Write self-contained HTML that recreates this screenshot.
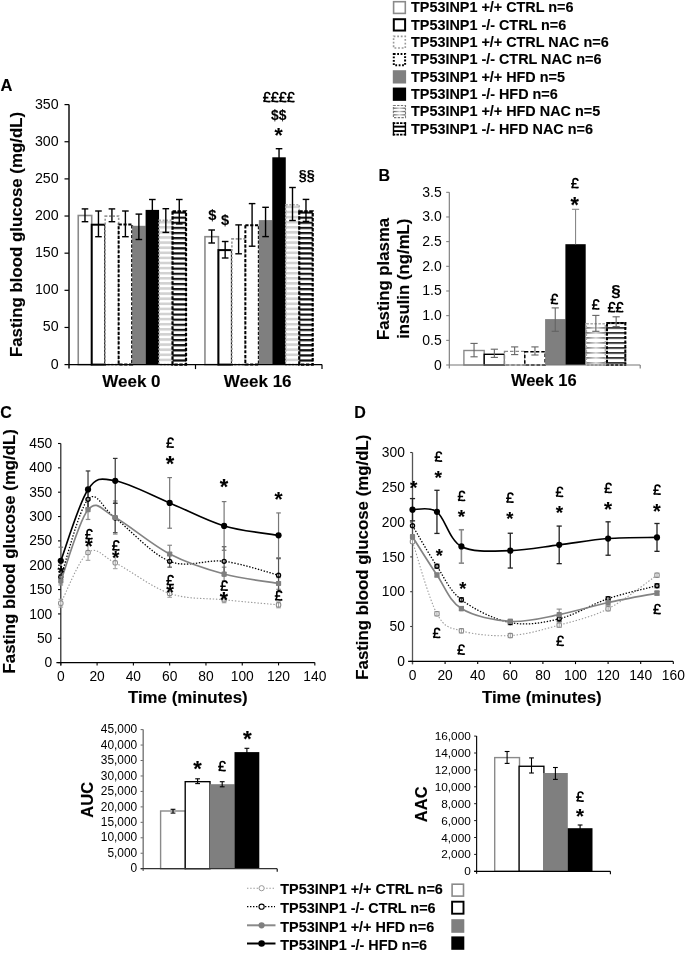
<!DOCTYPE html><html><head><meta charset="utf-8"><style>html,body{margin:0;padding:0;background:#fff;}svg{display:block;will-change:transform;}text{font-family:"Liberation Sans",sans-serif;}text[font-weight=bold]{stroke:#000;stroke-width:0.12px;}</style></head><body>
<svg width="685" height="955" viewBox="0 0 685 955">
<defs>
<pattern id="pb" patternUnits="userSpaceOnUse" x="0" y="2.4" width="10" height="5.1"><rect width="10" height="5.1" fill="#fff"/><rect y="0" width="10" height="2.2" fill="#111"/></pattern>
<pattern id="pg" patternUnits="userSpaceOnUse" x="0" y="1.6" width="10" height="5.1"><rect width="10" height="5.1" fill="#fff"/><rect y="0" width="10" height="2.6" fill="#d2d2d2"/></pattern>
<pattern id="pbB" patternUnits="userSpaceOnUse" x="0" y="2.15" width="10" height="5.0"><rect width="10" height="5.0" fill="#fff"/><rect y="0" width="10" height="1.6" fill="#111"/></pattern>
<linearGradient id="gh" x1="0" y1="0" x2="1" y2="0"><stop offset="0" stop-color="#5a5a5a"/><stop offset="0.5" stop-color="#d0d0d0"/><stop offset="1" stop-color="#5a5a5a"/></linearGradient>
</defs>
<rect width="685" height="955" fill="#fff"/>
<rect x="393.6" y="1.7" width="11.7" height="11.7" fill="#fff" stroke="#8a8a8a" stroke-width="1.6"/>
<text x="411" y="12.2" font-size="14.4" font-weight="bold" text-anchor="start" fill="#000">TP53INP1 +/+ CTRL n=6</text>
<rect x="393.8" y="19.23" width="11.3" height="11.3" fill="#fff" stroke="#000" stroke-width="2"/>
<text x="411" y="29.53" font-size="14.4" font-weight="bold" text-anchor="start" fill="#000">TP53INP1 -/- CTRL n=6</text>
<rect x="393.6" y="36.36" width="11.7" height="11.7" fill="#fff" stroke="#999" stroke-width="1.6" stroke-dasharray="1.8 1.8"/>
<text x="411" y="46.86" font-size="14.4" font-weight="bold" text-anchor="start" fill="#000">TP53INP1 +/+ CTRL NAC n=6</text>
<rect x="393.8" y="53.89" width="11.3" height="11.3" fill="#fff" stroke="#000" stroke-width="2" stroke-dasharray="1.8 1.6"/>
<text x="411" y="64.19" font-size="14.4" font-weight="bold" text-anchor="start" fill="#000">TP53INP1 -/- CTRL NAC n=6</text>
<rect x="392.8" y="70.22" width="13.3" height="13.3" fill="#7f7f7f" stroke="none" stroke-width="1"/>
<text x="411" y="81.52" font-size="14.4" font-weight="bold" text-anchor="start" fill="#000">TP53INP1 +/+ HFD n=5</text>
<rect x="392.8" y="87.55" width="13.3" height="13.3" fill="#000" stroke="none" stroke-width="1"/>
<text x="411" y="98.85" font-size="14.4" font-weight="bold" text-anchor="start" fill="#000">TP53INP1 -/- HFD n=6</text>
<rect x="392.8" y="104.88" width="13.3" height="13.3" fill="#fff" stroke="none" stroke-width="1"/>
<rect x="393.4" y="107.55" width="12.1" height="1.3" fill="url(#gh)" stroke="none" stroke-width="1"/>
<rect x="393.4" y="110.88" width="12.1" height="1.3" fill="url(#gh)" stroke="none" stroke-width="1"/>
<rect x="393.4" y="114.2" width="12.1" height="1.3" fill="url(#gh)" stroke="none" stroke-width="1"/>
<rect x="393.4" y="105.48" width="12.1" height="12.1" fill="none" stroke="#777" stroke-width="1.1" stroke-dasharray="2.4 1.3"/>
<text x="411" y="116.18" font-size="14.4" font-weight="bold" text-anchor="start" fill="#000">TP53INP1 +/+ HFD NAC n=5</text>
<rect x="392.8" y="122.21" width="13.3" height="13.3" fill="#fff" stroke="none" stroke-width="1"/>
<rect x="393.3" y="125.69" width="12.3" height="1.9" fill="#000" stroke="none" stroke-width="1"/>
<rect x="393.3" y="130.13" width="12.3" height="1.9" fill="#000" stroke="none" stroke-width="1"/>
<line x1="393.5" y1="122.21" x2="393.5" y2="135.51" stroke="#000" stroke-width="1.4"/>
<line x1="405.4" y1="122.21" x2="405.4" y2="135.51" stroke="#000" stroke-width="1.4"/>
<line x1="392.8" y1="123.11" x2="406.1" y2="123.11" stroke="#000" stroke-width="1.8" stroke-dasharray="2.5 1.1"/>
<line x1="392.8" y1="134.61" x2="406.1" y2="134.61" stroke="#000" stroke-width="1.8" stroke-dasharray="2.5 1.1"/>
<text x="411" y="133.51" font-size="14.4" font-weight="bold" text-anchor="start" fill="#000">TP53INP1 -/- HFD NAC n=6</text>
<text x="0.4" y="91.3" font-size="16.5" font-weight="bold" text-anchor="start" fill="#000">A</text>
<line x1="64.5" y1="364.6" x2="69" y2="364.6" stroke="#000" stroke-width="1.2"/>
<text x="58.6" y="368.5" font-size="14.2" text-anchor="end" fill="#000">0</text>
<line x1="64.5" y1="327.46" x2="69" y2="327.46" stroke="#000" stroke-width="1.2"/>
<text x="58.6" y="331.36" font-size="14.2" text-anchor="end" fill="#000">50</text>
<line x1="64.5" y1="290.31" x2="69" y2="290.31" stroke="#000" stroke-width="1.2"/>
<text x="58.6" y="294.21" font-size="14.2" text-anchor="end" fill="#000">100</text>
<line x1="64.5" y1="253.17" x2="69" y2="253.17" stroke="#000" stroke-width="1.2"/>
<text x="58.6" y="257.07" font-size="14.2" text-anchor="end" fill="#000">150</text>
<line x1="64.5" y1="216.03" x2="69" y2="216.03" stroke="#000" stroke-width="1.2"/>
<text x="58.6" y="219.93" font-size="14.2" text-anchor="end" fill="#000">200</text>
<line x1="64.5" y1="178.89" x2="69" y2="178.89" stroke="#000" stroke-width="1.2"/>
<text x="58.6" y="182.79" font-size="14.2" text-anchor="end" fill="#000">250</text>
<line x1="64.5" y1="141.74" x2="69" y2="141.74" stroke="#000" stroke-width="1.2"/>
<text x="58.6" y="145.64" font-size="14.2" text-anchor="end" fill="#000">300</text>
<line x1="64.5" y1="104.6" x2="69" y2="104.6" stroke="#000" stroke-width="1.2"/>
<text x="58.6" y="108.5" font-size="14.2" text-anchor="end" fill="#000">350</text>
<text transform="translate(22.3,234.5) rotate(-90)" x="0" y="0" font-size="16.85" font-weight="bold" text-anchor="middle">Fasting blood glucose (mg/dL)</text>
<rect x="78.25" y="215.5" width="13.47" height="149.1" fill="#fff" stroke="#8a8a8a" stroke-width="1.6"/>
<rect x="91.72" y="224.7" width="13.47" height="139.9" fill="#fff" stroke="#000" stroke-width="2.0"/>
<rect x="105.19" y="216.1" width="13.47" height="148.5" fill="#fff" stroke="#999" stroke-width="1.6" stroke-dasharray="2.2 1.6"/>
<rect x="118.66" y="224.4" width="13.47" height="140.2" fill="#fff" stroke="#000" stroke-width="2.0" stroke-dasharray="3.2 1.6"/>
<rect x="132.13" y="225.8" width="13.47" height="138.8" fill="#7f7f7f" stroke="none" stroke-width="1"/>
<rect x="145.6" y="209.9" width="13.47" height="154.7" fill="#000" stroke="none" stroke-width="1"/>
<rect x="159.07" y="219.6" width="13.47" height="145" fill="url(#pg)" stroke="none" stroke-width="1"/>
<rect x="159.07" y="220.4" width="13.47" height="144.2" fill="none" stroke="#aaa" stroke-width="1.6" stroke-dasharray="2 1.5"/>
<rect x="172.54" y="210.3" width="13.47" height="154.3" fill="url(#pb)" stroke="none" stroke-width="1"/>
<rect x="172.54" y="211.3" width="13.47" height="153.3" fill="none" stroke="#000" stroke-width="2.2" stroke-dasharray="3.5 1.5"/>
<line x1="84.98" y1="208.9" x2="84.98" y2="221.7" stroke="#000" stroke-width="1.4"/>
<line x1="81.69" y1="208.9" x2="88.28" y2="208.9" stroke="#000" stroke-width="1.4"/>
<line x1="81.69" y1="221.7" x2="88.28" y2="221.7" stroke="#000" stroke-width="1.4"/>
<line x1="98.45" y1="211" x2="98.45" y2="236.7" stroke="#000" stroke-width="1.4"/>
<line x1="95.16" y1="211" x2="101.75" y2="211" stroke="#000" stroke-width="1.4"/>
<line x1="95.16" y1="236.7" x2="101.75" y2="236.7" stroke="#000" stroke-width="1.4"/>
<line x1="111.92" y1="208.9" x2="111.92" y2="221.7" stroke="#000" stroke-width="1.4"/>
<line x1="108.62" y1="208.9" x2="115.22" y2="208.9" stroke="#000" stroke-width="1.4"/>
<line x1="108.62" y1="221.7" x2="115.22" y2="221.7" stroke="#000" stroke-width="1.4"/>
<line x1="125.39" y1="211" x2="125.39" y2="236.7" stroke="#000" stroke-width="1.4"/>
<line x1="122.09" y1="211" x2="128.69" y2="211" stroke="#000" stroke-width="1.4"/>
<line x1="122.09" y1="236.7" x2="128.69" y2="236.7" stroke="#000" stroke-width="1.4"/>
<line x1="138.87" y1="214.1" x2="138.87" y2="239.5" stroke="#000" stroke-width="1.4"/>
<line x1="135.56" y1="214.1" x2="142.17" y2="214.1" stroke="#000" stroke-width="1.4"/>
<line x1="135.56" y1="239.5" x2="142.17" y2="239.5" stroke="#000" stroke-width="1.4"/>
<line x1="152.34" y1="199.5" x2="152.34" y2="220" stroke="#000" stroke-width="1.4"/>
<line x1="149.04" y1="199.5" x2="155.64" y2="199.5" stroke="#000" stroke-width="1.4"/>
<line x1="149.04" y1="220" x2="155.64" y2="220" stroke="#000" stroke-width="1.4"/>
<line x1="165.81" y1="208.7" x2="165.81" y2="232.4" stroke="#000" stroke-width="1.4"/>
<line x1="162.5" y1="208.7" x2="169.11" y2="208.7" stroke="#000" stroke-width="1.4"/>
<line x1="162.5" y1="232.4" x2="169.11" y2="232.4" stroke="#000" stroke-width="1.4"/>
<line x1="179.28" y1="199.5" x2="179.28" y2="223.9" stroke="#000" stroke-width="1.4"/>
<line x1="175.98" y1="199.5" x2="182.58" y2="199.5" stroke="#000" stroke-width="1.4"/>
<line x1="175.98" y1="223.9" x2="182.58" y2="223.9" stroke="#000" stroke-width="1.4"/>
<rect x="204.95" y="236.7" width="13.47" height="127.9" fill="#fff" stroke="#8a8a8a" stroke-width="1.6"/>
<rect x="218.42" y="250.1" width="13.47" height="114.5" fill="#fff" stroke="#000" stroke-width="2.0"/>
<rect x="231.89" y="238.9" width="13.47" height="125.7" fill="#fff" stroke="#999" stroke-width="1.6" stroke-dasharray="2.2 1.6"/>
<rect x="245.36" y="225.2" width="13.47" height="139.4" fill="#fff" stroke="#000" stroke-width="2.0" stroke-dasharray="3.2 1.6"/>
<rect x="258.83" y="220.1" width="13.47" height="144.5" fill="#7f7f7f" stroke="none" stroke-width="1"/>
<rect x="272.3" y="157.3" width="13.47" height="207.3" fill="#000" stroke="none" stroke-width="1"/>
<rect x="285.77" y="204" width="13.47" height="160.6" fill="url(#pg)" stroke="none" stroke-width="1"/>
<rect x="285.77" y="204.8" width="13.47" height="159.8" fill="none" stroke="#aaa" stroke-width="1.6" stroke-dasharray="2 1.5"/>
<rect x="299.24" y="210.4" width="13.47" height="154.2" fill="url(#pb)" stroke="none" stroke-width="1"/>
<rect x="299.24" y="211.4" width="13.47" height="153.2" fill="none" stroke="#000" stroke-width="2.2" stroke-dasharray="3.5 1.5"/>
<line x1="211.69" y1="230" x2="211.69" y2="243" stroke="#000" stroke-width="1.4"/>
<line x1="208.38" y1="230" x2="214.99" y2="230" stroke="#000" stroke-width="1.4"/>
<line x1="208.38" y1="243" x2="214.99" y2="243" stroke="#000" stroke-width="1.4"/>
<line x1="225.16" y1="241.5" x2="225.16" y2="258" stroke="#000" stroke-width="1.4"/>
<line x1="221.85" y1="241.5" x2="228.46" y2="241.5" stroke="#000" stroke-width="1.4"/>
<line x1="221.85" y1="258" x2="228.46" y2="258" stroke="#000" stroke-width="1.4"/>
<line x1="238.62" y1="224.9" x2="238.62" y2="253.8" stroke="#000" stroke-width="1.4"/>
<line x1="235.32" y1="224.9" x2="241.93" y2="224.9" stroke="#000" stroke-width="1.4"/>
<line x1="235.32" y1="253.8" x2="241.93" y2="253.8" stroke="#000" stroke-width="1.4"/>
<line x1="252.09" y1="203.6" x2="252.09" y2="246.2" stroke="#000" stroke-width="1.4"/>
<line x1="248.79" y1="203.6" x2="255.4" y2="203.6" stroke="#000" stroke-width="1.4"/>
<line x1="248.79" y1="246.2" x2="255.4" y2="246.2" stroke="#000" stroke-width="1.4"/>
<line x1="265.56" y1="207.3" x2="265.56" y2="236.6" stroke="#000" stroke-width="1.4"/>
<line x1="262.26" y1="207.3" x2="268.87" y2="207.3" stroke="#000" stroke-width="1.4"/>
<line x1="262.26" y1="236.6" x2="268.87" y2="236.6" stroke="#000" stroke-width="1.4"/>
<line x1="279.04" y1="148.7" x2="279.04" y2="166" stroke="#000" stroke-width="1.4"/>
<line x1="275.74" y1="148.7" x2="282.34" y2="148.7" stroke="#000" stroke-width="1.4"/>
<line x1="275.74" y1="166" x2="282.34" y2="166" stroke="#000" stroke-width="1.4"/>
<line x1="292.5" y1="187.5" x2="292.5" y2="220.5" stroke="#000" stroke-width="1.4"/>
<line x1="289.2" y1="187.5" x2="295.81" y2="187.5" stroke="#000" stroke-width="1.4"/>
<line x1="289.2" y1="220.5" x2="295.81" y2="220.5" stroke="#000" stroke-width="1.4"/>
<line x1="305.98" y1="199.4" x2="305.98" y2="221.4" stroke="#000" stroke-width="1.4"/>
<line x1="302.68" y1="199.4" x2="309.28" y2="199.4" stroke="#000" stroke-width="1.4"/>
<line x1="302.68" y1="221.4" x2="309.28" y2="221.4" stroke="#000" stroke-width="1.4"/>
<line x1="69" y1="104.6" x2="69" y2="368.6" stroke="#111" stroke-width="1.5"/>
<line x1="69" y1="364.6" x2="322" y2="364.6" stroke="#000" stroke-width="1.3"/>
<line x1="195.5" y1="364.6" x2="195.5" y2="369.1" stroke="#000" stroke-width="1.2"/>
<line x1="322" y1="364.6" x2="322" y2="369.1" stroke="#000" stroke-width="1.2"/>
<text x="131.4" y="387" font-size="17" font-weight="bold" text-anchor="middle" fill="#000">Week 0</text>
<text x="257.7" y="387" font-size="17" font-weight="bold" text-anchor="middle" fill="#000">Week 16</text>
<text x="212.3" y="220.26" font-size="14.61" font-weight="bold" text-anchor="middle" fill="#000">$</text>
<text x="225.1" y="224.66" font-size="14.61" font-weight="bold" text-anchor="middle" fill="#000">$</text>
<text x="278.7" y="142.48" font-size="20.94" font-weight="bold" text-anchor="middle" fill="#000">*</text>
<text x="278.7" y="119.54" font-size="13.8" font-weight="bold" text-anchor="middle" fill="#000">$$</text>
<path d="M7.1,-7.6 C6.9,-9.1 5.8,-9.95 4.5,-9.95 C3.0,-9.95 2.15,-9.1 2.15,-7.7 L2.2,-3.7 C2.2,-2.3 1.6,-1.4 0.55,-0.85 M0.55,-0.85 C1.8,-1.45 3.0,-1.15 4.2,-0.95 C5.4,-0.75 6.5,-0.65 7.7,-1.25 M0.15,-4.8 L5.6,-4.8" transform="translate(262.79,102.4) scale(1)" fill="none" stroke="#000" stroke-width="1.65"/>
<path d="M7.1,-7.6 C6.9,-9.1 5.8,-9.95 4.5,-9.95 C3.0,-9.95 2.15,-9.1 2.15,-7.7 L2.2,-3.7 C2.2,-2.3 1.6,-1.4 0.55,-0.85 M0.55,-0.85 C1.8,-1.45 3.0,-1.15 4.2,-0.95 C5.4,-0.75 6.5,-0.65 7.7,-1.25 M0.15,-4.8 L5.6,-4.8" transform="translate(270.79,102.4) scale(1)" fill="none" stroke="#000" stroke-width="1.65"/>
<path d="M7.1,-7.6 C6.9,-9.1 5.8,-9.95 4.5,-9.95 C3.0,-9.95 2.15,-9.1 2.15,-7.7 L2.2,-3.7 C2.2,-2.3 1.6,-1.4 0.55,-0.85 M0.55,-0.85 C1.8,-1.45 3.0,-1.15 4.2,-0.95 C5.4,-0.75 6.5,-0.65 7.7,-1.25 M0.15,-4.8 L5.6,-4.8" transform="translate(278.8,102.4) scale(1)" fill="none" stroke="#000" stroke-width="1.65"/>
<path d="M7.1,-7.6 C6.9,-9.1 5.8,-9.95 4.5,-9.95 C3.0,-9.95 2.15,-9.1 2.15,-7.7 L2.2,-3.7 C2.2,-2.3 1.6,-1.4 0.55,-0.85 M0.55,-0.85 C1.8,-1.45 3.0,-1.15 4.2,-0.95 C5.4,-0.75 6.5,-0.65 7.7,-1.25 M0.15,-4.8 L5.6,-4.8" transform="translate(286.81,102.4) scale(1)" fill="none" stroke="#000" stroke-width="1.65"/>
<text x="306.7" y="180.2" font-size="14.37" font-weight="bold" text-anchor="middle" fill="#000">§§</text>
<text x="378.6" y="181.3" font-size="16" font-weight="bold" text-anchor="start" fill="#000">B</text>
<line x1="446.2" y1="365" x2="449.3" y2="365" stroke="#777" stroke-width="1"/>
<text x="441.8" y="369.5" font-size="14" text-anchor="end" fill="#000">0</text>
<line x1="446.2" y1="340.33" x2="449.3" y2="340.33" stroke="#777" stroke-width="1"/>
<text x="441.8" y="344.83" font-size="14" text-anchor="end" fill="#000">0.5</text>
<line x1="446.2" y1="315.66" x2="449.3" y2="315.66" stroke="#777" stroke-width="1"/>
<text x="441.8" y="320.16" font-size="14" text-anchor="end" fill="#000">1.0</text>
<line x1="446.2" y1="290.99" x2="449.3" y2="290.99" stroke="#777" stroke-width="1"/>
<text x="441.8" y="295.49" font-size="14" text-anchor="end" fill="#000">1.5</text>
<line x1="446.2" y1="266.31" x2="449.3" y2="266.31" stroke="#777" stroke-width="1"/>
<text x="441.8" y="270.81" font-size="14" text-anchor="end" fill="#000">2.0</text>
<line x1="446.2" y1="241.64" x2="449.3" y2="241.64" stroke="#777" stroke-width="1"/>
<text x="441.8" y="246.14" font-size="14" text-anchor="end" fill="#000">2.5</text>
<line x1="446.2" y1="216.97" x2="449.3" y2="216.97" stroke="#777" stroke-width="1"/>
<text x="441.8" y="221.47" font-size="14" text-anchor="end" fill="#000">3.0</text>
<line x1="446.2" y1="192.3" x2="449.3" y2="192.3" stroke="#777" stroke-width="1"/>
<text x="441.8" y="196.8" font-size="14" text-anchor="end" fill="#000">3.5</text>
<text transform="translate(389.2,278.9) rotate(-90)" x="0" y="0" font-size="16.8" font-weight="bold" text-anchor="middle">Fasting plasma</text>
<text transform="translate(409,278.7) rotate(-90)" x="0" y="0" font-size="16.8" font-weight="bold" text-anchor="middle">insulin (ng/mL)</text>
<rect x="463.9" y="350.5" width="20.3" height="14.5" fill="#fff" stroke="#8a8a8a" stroke-width="1.4"/>
<rect x="484.2" y="354.3" width="20.3" height="10.7" fill="#fff" stroke="#000" stroke-width="1.4"/>
<rect x="504.5" y="351.4" width="20.3" height="13.6" fill="#fff" stroke="#8a8a8a" stroke-width="1.4" stroke-dasharray="3.5 2"/>
<rect x="524.8" y="351.85" width="20.3" height="13.15" fill="#fff" stroke="#000" stroke-width="1.5" stroke-dasharray="3.5 2"/>
<rect x="545.1" y="319.1" width="20.3" height="45.9" fill="#7f7f7f" stroke="none" stroke-width="1"/>
<rect x="565.4" y="244.2" width="20.3" height="120.8" fill="#000" stroke="none" stroke-width="1"/>
<rect x="585.7" y="323.1" width="20.3" height="41.9" fill="#fff" stroke="none" stroke-width="1"/>
<rect x="585.7" y="362.15" width="20.3" height="1.5" fill="url(#gh)" stroke="none" stroke-width="1"/>
<rect x="585.7" y="357.15" width="20.3" height="1.5" fill="url(#gh)" stroke="none" stroke-width="1"/>
<rect x="585.7" y="352.15" width="20.3" height="1.5" fill="url(#gh)" stroke="none" stroke-width="1"/>
<rect x="585.7" y="347.15" width="20.3" height="1.5" fill="url(#gh)" stroke="none" stroke-width="1"/>
<rect x="585.7" y="342.15" width="20.3" height="1.5" fill="url(#gh)" stroke="none" stroke-width="1"/>
<rect x="585.7" y="337.15" width="20.3" height="1.5" fill="url(#gh)" stroke="none" stroke-width="1"/>
<rect x="585.7" y="332.15" width="20.3" height="1.5" fill="url(#gh)" stroke="none" stroke-width="1"/>
<rect x="585.7" y="327.15" width="20.3" height="1.5" fill="url(#gh)" stroke="none" stroke-width="1"/>
<rect x="586.4" y="323.8" width="18.9" height="41.2" fill="none" stroke="#aaa" stroke-width="1.4" stroke-dasharray="2.5 1.5"/>
<rect x="606" y="321.9" width="20.3" height="43.1" fill="url(#pbB)" stroke="none" stroke-width="1"/>
<rect x="607" y="322.9" width="18.3" height="42.1" fill="none" stroke="#000" stroke-width="2" stroke-dasharray="3 1.5"/>
<line x1="474.05" y1="343.4" x2="474.05" y2="356.8" stroke="#636363" stroke-width="1.1"/>
<line x1="470.45" y1="343.4" x2="477.65" y2="343.4" stroke="#636363" stroke-width="1.1"/>
<line x1="470.45" y1="356.8" x2="477.65" y2="356.8" stroke="#636363" stroke-width="1.1"/>
<line x1="494.35" y1="349.2" x2="494.35" y2="357.4" stroke="#636363" stroke-width="1.1"/>
<line x1="490.75" y1="349.2" x2="497.95" y2="349.2" stroke="#636363" stroke-width="1.1"/>
<line x1="490.75" y1="357.4" x2="497.95" y2="357.4" stroke="#636363" stroke-width="1.1"/>
<line x1="514.65" y1="346.9" x2="514.65" y2="354.6" stroke="#636363" stroke-width="1.1"/>
<line x1="511.05" y1="346.9" x2="518.25" y2="346.9" stroke="#636363" stroke-width="1.1"/>
<line x1="511.05" y1="354.6" x2="518.25" y2="354.6" stroke="#636363" stroke-width="1.1"/>
<line x1="534.95" y1="346.9" x2="534.95" y2="355" stroke="#636363" stroke-width="1.1"/>
<line x1="531.35" y1="346.9" x2="538.55" y2="346.9" stroke="#636363" stroke-width="1.1"/>
<line x1="531.35" y1="355" x2="538.55" y2="355" stroke="#636363" stroke-width="1.1"/>
<line x1="555.25" y1="307.9" x2="555.25" y2="331.3" stroke="#636363" stroke-width="1.1"/>
<line x1="551.65" y1="307.9" x2="558.85" y2="307.9" stroke="#636363" stroke-width="1.1"/>
<line x1="551.65" y1="331.3" x2="558.85" y2="331.3" stroke="#636363" stroke-width="1.1"/>
<line x1="575.55" y1="209.3" x2="575.55" y2="244.2" stroke="#888" stroke-width="1.1"/>
<line x1="571.95" y1="209.3" x2="579.15" y2="209.3" stroke="#888" stroke-width="1.1"/>
<line x1="595.85" y1="315.4" x2="595.85" y2="331.3" stroke="#636363" stroke-width="1.1"/>
<line x1="592.25" y1="315.4" x2="599.45" y2="315.4" stroke="#636363" stroke-width="1.1"/>
<line x1="592.25" y1="331.3" x2="599.45" y2="331.3" stroke="#636363" stroke-width="1.1"/>
<line x1="616.15" y1="316.8" x2="616.15" y2="326.6" stroke="#636363" stroke-width="1.1"/>
<line x1="612.55" y1="316.8" x2="619.75" y2="316.8" stroke="#636363" stroke-width="1.1"/>
<line x1="612.55" y1="326.6" x2="619.75" y2="326.6" stroke="#636363" stroke-width="1.1"/>
<line x1="449.3" y1="192.3" x2="449.3" y2="368.5" stroke="#777" stroke-width="1.1"/>
<line x1="449.3" y1="365" x2="640.2" y2="365" stroke="#777" stroke-width="1.1"/>
<line x1="640.2" y1="365" x2="640.2" y2="368.5" stroke="#777" stroke-width="1.1"/>
<text x="543.8" y="386.2" font-size="16.5" font-weight="bold" text-anchor="middle" fill="#000">Week 16</text>
<path d="M7.1,-7.6 C6.9,-9.1 5.8,-9.95 4.5,-9.95 C3.0,-9.95 2.15,-9.1 2.15,-7.7 L2.2,-3.7 C2.2,-2.3 1.6,-1.4 0.55,-0.85 M0.55,-0.85 C1.8,-1.45 3.0,-1.15 4.2,-0.95 C5.4,-0.75 6.5,-0.65 7.7,-1.25 M0.15,-4.8 L5.6,-4.8" transform="translate(550.3,304.4) scale(1)" fill="none" stroke="#000" stroke-width="1.65"/>
<path d="M7.1,-7.6 C6.9,-9.1 5.8,-9.95 4.5,-9.95 C3.0,-9.95 2.15,-9.1 2.15,-7.7 L2.2,-3.7 C2.2,-2.3 1.6,-1.4 0.55,-0.85 M0.55,-0.85 C1.8,-1.45 3.0,-1.15 4.2,-0.95 C5.4,-0.75 6.5,-0.65 7.7,-1.25 M0.15,-4.8 L5.6,-4.8" transform="translate(570.9,188.5) scale(1)" fill="none" stroke="#000" stroke-width="1.65"/>
<text x="574.8" y="211.67" font-size="21.51" font-weight="bold" text-anchor="middle" fill="#000">*</text>
<path d="M7.1,-7.6 C6.9,-9.1 5.8,-9.95 4.5,-9.95 C3.0,-9.95 2.15,-9.1 2.15,-7.7 L2.2,-3.7 C2.2,-2.3 1.6,-1.4 0.55,-0.85 M0.55,-0.85 C1.8,-1.45 3.0,-1.15 4.2,-0.95 C5.4,-0.75 6.5,-0.65 7.7,-1.25 M0.15,-4.8 L5.6,-4.8" transform="translate(591.7,309.8) scale(1)" fill="none" stroke="#000" stroke-width="1.65"/>
<path d="M7.1,-7.6 C6.9,-9.1 5.8,-9.95 4.5,-9.95 C3.0,-9.95 2.15,-9.1 2.15,-7.7 L2.2,-3.7 C2.2,-2.3 1.6,-1.4 0.55,-0.85 M0.55,-0.85 C1.8,-1.45 3.0,-1.15 4.2,-0.95 C5.4,-0.75 6.5,-0.65 7.7,-1.25 M0.15,-4.8 L5.6,-4.8" transform="translate(607.59,312.6) scale(1)" fill="none" stroke="#000" stroke-width="1.65"/>
<path d="M7.1,-7.6 C6.9,-9.1 5.8,-9.95 4.5,-9.95 C3.0,-9.95 2.15,-9.1 2.15,-7.7 L2.2,-3.7 C2.2,-2.3 1.6,-1.4 0.55,-0.85 M0.55,-0.85 C1.8,-1.45 3.0,-1.15 4.2,-0.95 C5.4,-0.75 6.5,-0.65 7.7,-1.25 M0.15,-4.8 L5.6,-4.8" transform="translate(615.6,312.6) scale(1)" fill="none" stroke="#000" stroke-width="1.65"/>
<text x="616" y="296.69" font-size="16.91" font-weight="bold" text-anchor="middle" fill="#000">§</text>
<text x="0.3" y="418" font-size="16" font-weight="bold" text-anchor="start" fill="#000">C</text>
<line x1="58" y1="662.6" x2="60.8" y2="662.6" stroke="#000" stroke-width="1.1"/>
<text x="52.3" y="667.2" font-size="13.8" text-anchor="end" fill="#000">0</text>
<line x1="58" y1="638.26" x2="60.8" y2="638.26" stroke="#000" stroke-width="1.1"/>
<text x="52.3" y="642.86" font-size="13.8" text-anchor="end" fill="#000">50</text>
<line x1="58" y1="613.91" x2="60.8" y2="613.91" stroke="#000" stroke-width="1.1"/>
<text x="52.3" y="618.51" font-size="13.8" text-anchor="end" fill="#000">100</text>
<line x1="58" y1="589.57" x2="60.8" y2="589.57" stroke="#000" stroke-width="1.1"/>
<text x="52.3" y="594.17" font-size="13.8" text-anchor="end" fill="#000">150</text>
<line x1="58" y1="565.22" x2="60.8" y2="565.22" stroke="#000" stroke-width="1.1"/>
<text x="52.3" y="569.82" font-size="13.8" text-anchor="end" fill="#000">200</text>
<line x1="58" y1="540.88" x2="60.8" y2="540.88" stroke="#000" stroke-width="1.1"/>
<text x="52.3" y="545.48" font-size="13.8" text-anchor="end" fill="#000">250</text>
<line x1="58" y1="516.53" x2="60.8" y2="516.53" stroke="#000" stroke-width="1.1"/>
<text x="52.3" y="521.13" font-size="13.8" text-anchor="end" fill="#000">300</text>
<line x1="58" y1="492.19" x2="60.8" y2="492.19" stroke="#000" stroke-width="1.1"/>
<text x="52.3" y="496.79" font-size="13.8" text-anchor="end" fill="#000">350</text>
<line x1="58" y1="467.84" x2="60.8" y2="467.84" stroke="#000" stroke-width="1.1"/>
<text x="52.3" y="472.44" font-size="13.8" text-anchor="end" fill="#000">400</text>
<line x1="58" y1="443.5" x2="60.8" y2="443.5" stroke="#000" stroke-width="1.1"/>
<text x="52.3" y="448.1" font-size="13.8" text-anchor="end" fill="#000">450</text>
<line x1="60.8" y1="662.6" x2="60.8" y2="665.4" stroke="#000" stroke-width="1.1"/>
<text x="60.8" y="681.3" font-size="13.8" text-anchor="middle" fill="#000">0</text>
<line x1="97.09" y1="662.6" x2="97.09" y2="665.4" stroke="#000" stroke-width="1.1"/>
<text x="97.09" y="681.3" font-size="13.8" text-anchor="middle" fill="#000">20</text>
<line x1="133.38" y1="662.6" x2="133.38" y2="665.4" stroke="#000" stroke-width="1.1"/>
<text x="133.38" y="681.3" font-size="13.8" text-anchor="middle" fill="#000">40</text>
<line x1="169.67" y1="662.6" x2="169.67" y2="665.4" stroke="#000" stroke-width="1.1"/>
<text x="169.67" y="681.3" font-size="13.8" text-anchor="middle" fill="#000">60</text>
<line x1="205.96" y1="662.6" x2="205.96" y2="665.4" stroke="#000" stroke-width="1.1"/>
<text x="205.96" y="681.3" font-size="13.8" text-anchor="middle" fill="#000">80</text>
<line x1="242.25" y1="662.6" x2="242.25" y2="665.4" stroke="#000" stroke-width="1.1"/>
<text x="242.25" y="681.3" font-size="13.8" text-anchor="middle" fill="#000">100</text>
<line x1="278.54" y1="662.6" x2="278.54" y2="665.4" stroke="#000" stroke-width="1.1"/>
<text x="278.54" y="681.3" font-size="13.8" text-anchor="middle" fill="#000">120</text>
<line x1="314.83" y1="662.6" x2="314.83" y2="665.4" stroke="#000" stroke-width="1.1"/>
<text x="314.83" y="681.3" font-size="13.8" text-anchor="middle" fill="#000">140</text>
<text transform="translate(14.6,551.3) rotate(-90)" x="0" y="0" font-size="16.8" font-weight="bold" text-anchor="middle">Fasting blood glucose (mg/dL)</text>
<text x="187.8" y="703" font-size="16.9" font-weight="bold" text-anchor="middle" fill="#000">Time (minutes)</text>
<line x1="60.8" y1="443.5" x2="60.8" y2="665.6" stroke="#222" stroke-width="1.2"/>
<line x1="56.4" y1="662.6" x2="314.83" y2="662.6" stroke="#000" stroke-width="1.2"/>
<line x1="60.8" y1="599.3" x2="60.8" y2="607.09" stroke="#aaa" stroke-width="1.2"/>
<line x1="58.5" y1="599.3" x2="63.1" y2="599.3" stroke="#aaa" stroke-width="1.2"/>
<line x1="58.5" y1="607.09" x2="63.1" y2="607.09" stroke="#aaa" stroke-width="1.2"/>
<line x1="88.02" y1="544.77" x2="88.02" y2="560.35" stroke="#aaa" stroke-width="1.2"/>
<line x1="85.72" y1="544.77" x2="90.32" y2="544.77" stroke="#aaa" stroke-width="1.2"/>
<line x1="85.72" y1="560.35" x2="90.32" y2="560.35" stroke="#aaa" stroke-width="1.2"/>
<line x1="115.23" y1="556.95" x2="115.23" y2="568.63" stroke="#aaa" stroke-width="1.2"/>
<line x1="112.94" y1="556.95" x2="117.53" y2="556.95" stroke="#aaa" stroke-width="1.2"/>
<line x1="112.94" y1="568.63" x2="117.53" y2="568.63" stroke="#aaa" stroke-width="1.2"/>
<line x1="169.67" y1="589.57" x2="169.67" y2="597.36" stroke="#aaa" stroke-width="1.2"/>
<line x1="167.37" y1="589.57" x2="171.97" y2="589.57" stroke="#aaa" stroke-width="1.2"/>
<line x1="167.37" y1="597.36" x2="171.97" y2="597.36" stroke="#aaa" stroke-width="1.2"/>
<line x1="224.11" y1="596.87" x2="224.11" y2="602.71" stroke="#aaa" stroke-width="1.2"/>
<line x1="221.81" y1="596.87" x2="226.41" y2="596.87" stroke="#aaa" stroke-width="1.2"/>
<line x1="221.81" y1="602.71" x2="226.41" y2="602.71" stroke="#aaa" stroke-width="1.2"/>
<line x1="278.54" y1="601.93" x2="278.54" y2="607.78" stroke="#aaa" stroke-width="1.2"/>
<line x1="276.24" y1="601.93" x2="280.84" y2="601.93" stroke="#aaa" stroke-width="1.2"/>
<line x1="276.24" y1="607.78" x2="280.84" y2="607.78" stroke="#aaa" stroke-width="1.2"/>
<line x1="60.8" y1="577.15" x2="60.8" y2="584.94" stroke="#888" stroke-width="1.2"/>
<line x1="58.5" y1="577.15" x2="63.1" y2="577.15" stroke="#888" stroke-width="1.2"/>
<line x1="58.5" y1="584.94" x2="63.1" y2="584.94" stroke="#888" stroke-width="1.2"/>
<line x1="88.02" y1="499.98" x2="88.02" y2="519.45" stroke="#888" stroke-width="1.2"/>
<line x1="85.72" y1="499.98" x2="90.32" y2="499.98" stroke="#888" stroke-width="1.2"/>
<line x1="85.72" y1="519.45" x2="90.32" y2="519.45" stroke="#888" stroke-width="1.2"/>
<line x1="115.23" y1="500.95" x2="115.23" y2="534.06" stroke="#888" stroke-width="1.2"/>
<line x1="112.94" y1="500.95" x2="117.53" y2="500.95" stroke="#888" stroke-width="1.2"/>
<line x1="112.94" y1="534.06" x2="117.53" y2="534.06" stroke="#888" stroke-width="1.2"/>
<line x1="169.67" y1="545.26" x2="169.67" y2="562.79" stroke="#888" stroke-width="1.2"/>
<line x1="167.37" y1="545.26" x2="171.97" y2="545.26" stroke="#888" stroke-width="1.2"/>
<line x1="167.37" y1="562.79" x2="171.97" y2="562.79" stroke="#888" stroke-width="1.2"/>
<line x1="224.11" y1="567.17" x2="224.11" y2="580.8" stroke="#888" stroke-width="1.2"/>
<line x1="221.81" y1="567.17" x2="226.41" y2="567.17" stroke="#888" stroke-width="1.2"/>
<line x1="221.81" y1="580.8" x2="226.41" y2="580.8" stroke="#888" stroke-width="1.2"/>
<line x1="278.54" y1="577.64" x2="278.54" y2="589.32" stroke="#888" stroke-width="1.2"/>
<line x1="276.24" y1="577.64" x2="280.84" y2="577.64" stroke="#888" stroke-width="1.2"/>
<line x1="276.24" y1="589.32" x2="280.84" y2="589.32" stroke="#888" stroke-width="1.2"/>
<line x1="60.8" y1="572.04" x2="60.8" y2="581.78" stroke="#555" stroke-width="1.2"/>
<line x1="58.5" y1="572.04" x2="63.1" y2="572.04" stroke="#555" stroke-width="1.2"/>
<line x1="58.5" y1="581.78" x2="63.1" y2="581.78" stroke="#555" stroke-width="1.2"/>
<line x1="88.02" y1="489.61" x2="88.02" y2="509.08" stroke="#555" stroke-width="1.2"/>
<line x1="85.72" y1="489.61" x2="90.32" y2="489.61" stroke="#555" stroke-width="1.2"/>
<line x1="85.72" y1="509.08" x2="90.32" y2="509.08" stroke="#555" stroke-width="1.2"/>
<line x1="115.23" y1="503.39" x2="115.23" y2="532.6" stroke="#555" stroke-width="1.2"/>
<line x1="112.94" y1="503.39" x2="117.53" y2="503.39" stroke="#555" stroke-width="1.2"/>
<line x1="112.94" y1="532.6" x2="117.53" y2="532.6" stroke="#555" stroke-width="1.2"/>
<line x1="169.67" y1="555.48" x2="169.67" y2="567.17" stroke="#555" stroke-width="1.2"/>
<line x1="167.37" y1="555.48" x2="171.97" y2="555.48" stroke="#555" stroke-width="1.2"/>
<line x1="167.37" y1="567.17" x2="171.97" y2="567.17" stroke="#555" stroke-width="1.2"/>
<line x1="224.11" y1="546.72" x2="224.11" y2="575.93" stroke="#555" stroke-width="1.2"/>
<line x1="221.81" y1="546.72" x2="226.41" y2="546.72" stroke="#555" stroke-width="1.2"/>
<line x1="221.81" y1="575.93" x2="226.41" y2="575.93" stroke="#555" stroke-width="1.2"/>
<line x1="278.54" y1="558.65" x2="278.54" y2="591.76" stroke="#555" stroke-width="1.2"/>
<line x1="276.24" y1="558.65" x2="280.84" y2="558.65" stroke="#555" stroke-width="1.2"/>
<line x1="276.24" y1="591.76" x2="280.84" y2="591.76" stroke="#555" stroke-width="1.2"/>
<line x1="60.8" y1="547.21" x2="60.8" y2="574.47" stroke="#777" stroke-width="1.2"/>
<line x1="58.5" y1="547.21" x2="63.1" y2="547.21" stroke="#777" stroke-width="1.2"/>
<line x1="58.5" y1="574.47" x2="63.1" y2="574.47" stroke="#777" stroke-width="1.2"/>
<line x1="88.02" y1="470.96" x2="88.02" y2="507.96" stroke="#333" stroke-width="1.2"/>
<line x1="85.72" y1="470.96" x2="90.32" y2="470.96" stroke="#333" stroke-width="1.2"/>
<line x1="85.72" y1="507.96" x2="90.32" y2="507.96" stroke="#333" stroke-width="1.2"/>
<line x1="115.23" y1="458.4" x2="115.23" y2="503.19" stroke="#333" stroke-width="1.2"/>
<line x1="112.94" y1="458.4" x2="117.53" y2="458.4" stroke="#333" stroke-width="1.2"/>
<line x1="112.94" y1="503.19" x2="117.53" y2="503.19" stroke="#333" stroke-width="1.2"/>
<line x1="169.67" y1="477.58" x2="169.67" y2="528.22" stroke="#777" stroke-width="1.2"/>
<line x1="167.37" y1="477.58" x2="171.97" y2="477.58" stroke="#777" stroke-width="1.2"/>
<line x1="167.37" y1="528.22" x2="171.97" y2="528.22" stroke="#777" stroke-width="1.2"/>
<line x1="224.11" y1="501.59" x2="224.11" y2="550.27" stroke="#777" stroke-width="1.2"/>
<line x1="221.81" y1="501.59" x2="226.41" y2="501.59" stroke="#777" stroke-width="1.2"/>
<line x1="221.81" y1="550.27" x2="226.41" y2="550.27" stroke="#777" stroke-width="1.2"/>
<line x1="278.54" y1="512.93" x2="278.54" y2="557.72" stroke="#777" stroke-width="1.2"/>
<line x1="276.24" y1="512.93" x2="280.84" y2="512.93" stroke="#777" stroke-width="1.2"/>
<line x1="276.24" y1="557.72" x2="280.84" y2="557.72" stroke="#777" stroke-width="1.2"/>
<path d="M60.8,603.2 C65.34,594.76 78.94,559.3 88.02,552.56 C97.09,545.83 101.63,555.97 115.23,562.79 C128.84,569.6 151.53,587.29 169.67,593.46 C187.82,599.63 205.96,597.89 224.11,599.79 C242.25,601.69 269.47,604.01 278.54,604.85" fill="none" stroke="#999" stroke-width="1.1" stroke-dasharray="1.4 1.8"/>
<rect x="58.6" y="601" width="4.4" height="4.4" fill="#fff" stroke="#8a8a8a" stroke-width="1.1" rx="1.4"/>
<line x1="60.8" y1="601" x2="60.8" y2="605.4" stroke="#8a8a8a" stroke-width="0.8"/>
<rect x="85.82" y="550.36" width="4.4" height="4.4" fill="#fff" stroke="#8a8a8a" stroke-width="1.1" rx="1.4"/>
<line x1="88.02" y1="550.36" x2="88.02" y2="554.76" stroke="#8a8a8a" stroke-width="0.8"/>
<rect x="113.03" y="560.59" width="4.4" height="4.4" fill="#fff" stroke="#8a8a8a" stroke-width="1.1" rx="1.4"/>
<line x1="115.23" y1="560.59" x2="115.23" y2="564.99" stroke="#8a8a8a" stroke-width="0.8"/>
<rect x="167.47" y="591.26" width="4.4" height="4.4" fill="#fff" stroke="#8a8a8a" stroke-width="1.1" rx="1.4"/>
<line x1="169.67" y1="591.26" x2="169.67" y2="595.66" stroke="#8a8a8a" stroke-width="0.8"/>
<rect x="221.91" y="597.59" width="4.4" height="4.4" fill="#fff" stroke="#8a8a8a" stroke-width="1.1" rx="1.4"/>
<line x1="224.11" y1="597.59" x2="224.11" y2="601.99" stroke="#8a8a8a" stroke-width="0.8"/>
<rect x="276.34" y="602.65" width="4.4" height="4.4" fill="#fff" stroke="#8a8a8a" stroke-width="1.1" rx="1.4"/>
<line x1="278.54" y1="602.65" x2="278.54" y2="607.05" stroke="#8a8a8a" stroke-width="0.8"/>
<path d="M60.8,576.91 C65.34,563.98 78.94,509.17 88.02,499.35 C97.09,489.53 101.63,507.66 115.23,517.99 C128.84,528.32 151.53,554.1 169.67,561.33 C187.82,568.55 205.96,559.01 224.11,561.33 C242.25,563.64 269.47,572.89 278.54,575.2" fill="none" stroke="#000" stroke-width="1.3" stroke-dasharray="1.4 1.6"/>
<circle cx="60.8" cy="576.91" r="2" fill="#fff" stroke="#000" stroke-width="1.4"/>
<line x1="60.8" y1="574.91" x2="60.8" y2="578.91" stroke="#000" stroke-width="0.8"/>
<circle cx="88.02" cy="499.35" r="2" fill="#fff" stroke="#000" stroke-width="1.4"/>
<line x1="88.02" y1="497.35" x2="88.02" y2="501.35" stroke="#000" stroke-width="0.8"/>
<circle cx="115.23" cy="517.99" r="2" fill="#fff" stroke="#000" stroke-width="1.4"/>
<line x1="115.23" y1="515.99" x2="115.23" y2="519.99" stroke="#000" stroke-width="0.8"/>
<circle cx="169.67" cy="561.33" r="2" fill="#fff" stroke="#000" stroke-width="1.4"/>
<line x1="169.67" y1="559.33" x2="169.67" y2="563.33" stroke="#000" stroke-width="0.8"/>
<circle cx="224.11" cy="561.33" r="2" fill="#fff" stroke="#000" stroke-width="1.4"/>
<line x1="224.11" y1="559.33" x2="224.11" y2="563.33" stroke="#000" stroke-width="0.8"/>
<circle cx="278.54" cy="575.2" r="2" fill="#fff" stroke="#000" stroke-width="1.4"/>
<line x1="278.54" y1="573.2" x2="278.54" y2="577.2" stroke="#000" stroke-width="0.8"/>
<path d="M60.8,581.05 C65.34,569.16 78.94,520.31 88.02,509.72 C97.09,499.13 101.63,510.12 115.23,517.51 C128.84,524.89 151.53,544.61 169.67,554.02 C187.82,563.44 205.96,569.08 224.11,573.99 C242.25,578.9 269.47,581.9 278.54,583.48" fill="none" stroke="#838383" stroke-width="1.7"/>
<rect x="58.2" y="578.45" width="5.2" height="5.2" fill="#7f7f7f" stroke="none" stroke-width="1" rx="0.8"/>
<rect x="85.42" y="507.12" width="5.2" height="5.2" fill="#7f7f7f" stroke="none" stroke-width="1" rx="0.8"/>
<rect x="112.64" y="514.91" width="5.2" height="5.2" fill="#7f7f7f" stroke="none" stroke-width="1" rx="0.8"/>
<rect x="167.07" y="551.42" width="5.2" height="5.2" fill="#7f7f7f" stroke="none" stroke-width="1" rx="0.8"/>
<rect x="221.51" y="571.39" width="5.2" height="5.2" fill="#7f7f7f" stroke="none" stroke-width="1" rx="0.8"/>
<rect x="275.94" y="580.88" width="5.2" height="5.2" fill="#7f7f7f" stroke="none" stroke-width="1" rx="0.8"/>
<path d="M60.8,560.84 C65.34,548.94 78.94,502.8 88.02,489.46 C97.09,476.12 101.63,478.56 115.23,480.8 C128.84,483.04 151.53,495.38 169.67,502.9 C187.82,510.42 205.96,520.53 224.11,525.93 C242.25,531.33 269.47,533.76 278.54,535.33" fill="none" stroke="#000" stroke-width="1.65"/>
<circle cx="60.8" cy="560.84" r="3.1" fill="#000"/>
<circle cx="88.02" cy="489.46" r="3.1" fill="#000"/>
<circle cx="115.23" cy="480.8" r="3.1" fill="#000"/>
<circle cx="169.67" cy="502.9" r="3.1" fill="#000"/>
<circle cx="224.11" cy="525.93" r="3.1" fill="#000"/>
<circle cx="278.54" cy="535.33" r="3.1" fill="#000"/>
<path d="M7.1,-7.6 C6.9,-9.1 5.8,-9.95 4.5,-9.95 C3.0,-9.95 2.15,-9.1 2.15,-7.7 L2.2,-3.7 C2.2,-2.3 1.6,-1.4 0.55,-0.85 M0.55,-0.85 C1.8,-1.45 3.0,-1.15 4.2,-0.95 C5.4,-0.75 6.5,-0.65 7.7,-1.25 M0.15,-4.8 L5.6,-4.8" transform="translate(166.1,448) scale(1)" fill="none" stroke="#000" stroke-width="1.65"/>
<text x="170" y="471.47" font-size="21.8" font-weight="bold" text-anchor="middle" fill="#000">*</text>
<text x="224" y="494.47" font-size="21.8" font-weight="bold" text-anchor="middle" fill="#000">*</text>
<text x="278.5" y="505.69" font-size="20.65" font-weight="bold" text-anchor="middle" fill="#000">*</text>
<path d="M7.1,-7.6 C6.9,-9.1 5.8,-9.95 4.5,-9.95 C3.0,-9.95 2.15,-9.1 2.15,-7.7 L2.2,-3.7 C2.2,-2.3 1.6,-1.4 0.55,-0.85 M0.55,-0.85 C1.8,-1.45 3.0,-1.15 4.2,-0.95 C5.4,-0.75 6.5,-0.65 7.7,-1.25 M0.15,-4.8 L5.6,-4.8" transform="translate(84.9,539.6) scale(1)" fill="none" stroke="#000" stroke-width="1.65"/>
<text x="88.8" y="552.5" font-size="19.5" font-weight="bold" text-anchor="middle" fill="#000">*</text>
<path d="M7.1,-7.6 C6.9,-9.1 5.8,-9.95 4.5,-9.95 C3.0,-9.95 2.15,-9.1 2.15,-7.7 L2.2,-3.7 C2.2,-2.3 1.6,-1.4 0.55,-0.85 M0.55,-0.85 C1.8,-1.45 3.0,-1.15 4.2,-0.95 C5.4,-0.75 6.5,-0.65 7.7,-1.25 M0.15,-4.8 L5.6,-4.8" transform="translate(111.8,550.8) scale(1)" fill="none" stroke="#000" stroke-width="1.65"/>
<text x="115.7" y="563.71" font-size="18.93" font-weight="bold" text-anchor="middle" fill="#000">*</text>
<path d="M7.1,-7.6 C6.9,-9.1 5.8,-9.95 4.5,-9.95 C3.0,-9.95 2.15,-9.1 2.15,-7.7 L2.2,-3.7 C2.2,-2.3 1.6,-1.4 0.55,-0.85 M0.55,-0.85 C1.8,-1.45 3.0,-1.15 4.2,-0.95 C5.4,-0.75 6.5,-0.65 7.7,-1.25 M0.15,-4.8 L5.6,-4.8" transform="translate(166.1,585.5) scale(1)" fill="none" stroke="#000" stroke-width="1.65"/>
<text x="170" y="599.1" font-size="19.5" font-weight="bold" text-anchor="middle" fill="#000">*</text>
<path d="M7.1,-7.6 C6.9,-9.1 5.8,-9.95 4.5,-9.95 C3.0,-9.95 2.15,-9.1 2.15,-7.7 L2.2,-3.7 C2.2,-2.3 1.6,-1.4 0.55,-0.85 M0.55,-0.85 C1.8,-1.45 3.0,-1.15 4.2,-0.95 C5.4,-0.75 6.5,-0.65 7.7,-1.25 M0.15,-4.8 L5.6,-4.8" transform="translate(220.1,591) scale(1)" fill="none" stroke="#000" stroke-width="1.65"/>
<text x="224" y="606.68" font-size="21.22" font-weight="bold" text-anchor="middle" fill="#000">*</text>
<path d="M7.1,-7.6 C6.9,-9.1 5.8,-9.95 4.5,-9.95 C3.0,-9.95 2.15,-9.1 2.15,-7.7 L2.2,-3.7 C2.2,-2.3 1.6,-1.4 0.55,-0.85 M0.55,-0.85 C1.8,-1.45 3.0,-1.15 4.2,-0.95 C5.4,-0.75 6.5,-0.65 7.7,-1.25 M0.15,-4.8 L5.6,-4.8" transform="translate(274.6,600.8) scale(1)" fill="none" stroke="#000" stroke-width="1.65"/>
<text x="61" y="578.92" font-size="18.36" font-weight="bold" text-anchor="middle" fill="#000">*</text>
<text x="354.2" y="418.4" font-size="16" font-weight="bold" text-anchor="start" fill="#000">D</text>
<line x1="410.2" y1="661.3" x2="412.5" y2="661.3" stroke="#333" stroke-width="1.1"/>
<text x="404.9" y="665.9" font-size="13.8" text-anchor="end" fill="#000">0</text>
<line x1="410.2" y1="626.5" x2="412.5" y2="626.5" stroke="#333" stroke-width="1.1"/>
<text x="404.9" y="631.1" font-size="13.8" text-anchor="end" fill="#000">50</text>
<line x1="410.2" y1="591.7" x2="412.5" y2="591.7" stroke="#333" stroke-width="1.1"/>
<text x="404.9" y="596.3" font-size="13.8" text-anchor="end" fill="#000">100</text>
<line x1="410.2" y1="556.9" x2="412.5" y2="556.9" stroke="#333" stroke-width="1.1"/>
<text x="404.9" y="561.5" font-size="13.8" text-anchor="end" fill="#000">150</text>
<line x1="410.2" y1="522.1" x2="412.5" y2="522.1" stroke="#333" stroke-width="1.1"/>
<text x="404.9" y="526.7" font-size="13.8" text-anchor="end" fill="#000">200</text>
<line x1="410.2" y1="487.3" x2="412.5" y2="487.3" stroke="#333" stroke-width="1.1"/>
<text x="404.9" y="491.9" font-size="13.8" text-anchor="end" fill="#000">250</text>
<line x1="410.2" y1="452.5" x2="412.5" y2="452.5" stroke="#333" stroke-width="1.1"/>
<text x="404.9" y="457.1" font-size="13.8" text-anchor="end" fill="#000">300</text>
<line x1="412.5" y1="661.3" x2="412.5" y2="664.1" stroke="#000" stroke-width="1.1"/>
<text x="412.5" y="680.3" font-size="13.8" text-anchor="middle" fill="#000">0</text>
<line x1="445.1" y1="661.3" x2="445.1" y2="664.1" stroke="#000" stroke-width="1.1"/>
<text x="445.1" y="680.3" font-size="13.8" text-anchor="middle" fill="#000">20</text>
<line x1="477.7" y1="661.3" x2="477.7" y2="664.1" stroke="#000" stroke-width="1.1"/>
<text x="477.7" y="680.3" font-size="13.8" text-anchor="middle" fill="#000">40</text>
<line x1="510.3" y1="661.3" x2="510.3" y2="664.1" stroke="#000" stroke-width="1.1"/>
<text x="510.3" y="680.3" font-size="13.8" text-anchor="middle" fill="#000">60</text>
<line x1="542.9" y1="661.3" x2="542.9" y2="664.1" stroke="#000" stroke-width="1.1"/>
<text x="542.9" y="680.3" font-size="13.8" text-anchor="middle" fill="#000">80</text>
<line x1="575.5" y1="661.3" x2="575.5" y2="664.1" stroke="#000" stroke-width="1.1"/>
<text x="575.5" y="680.3" font-size="13.8" text-anchor="middle" fill="#000">100</text>
<line x1="608.1" y1="661.3" x2="608.1" y2="664.1" stroke="#000" stroke-width="1.1"/>
<text x="608.1" y="680.3" font-size="13.8" text-anchor="middle" fill="#000">120</text>
<line x1="640.7" y1="661.3" x2="640.7" y2="664.1" stroke="#000" stroke-width="1.1"/>
<text x="640.7" y="680.3" font-size="13.8" text-anchor="middle" fill="#000">140</text>
<line x1="673.3" y1="661.3" x2="673.3" y2="664.1" stroke="#000" stroke-width="1.1"/>
<text x="673.3" y="680.3" font-size="13.8" text-anchor="middle" fill="#000">160</text>
<text transform="translate(368.3,557.2) rotate(-90)" x="0" y="0" font-size="16.85" font-weight="bold" text-anchor="middle">Fasting blood glucose (mg/dL)</text>
<text x="541.8" y="702.6" font-size="16.9" font-weight="bold" text-anchor="middle" fill="#000">Time (minutes)</text>
<line x1="412.5" y1="452.5" x2="412.5" y2="664.3" stroke="#555" stroke-width="1.3"/>
<line x1="408.1" y1="661.3" x2="673" y2="661.3" stroke="#000" stroke-width="1.2"/>
<line x1="436.95" y1="611.68" x2="436.95" y2="615.85" stroke="#aaa" stroke-width="1.1"/>
<line x1="434.35" y1="611.68" x2="439.55" y2="611.68" stroke="#aaa" stroke-width="1.1"/>
<line x1="434.35" y1="615.85" x2="439.55" y2="615.85" stroke="#aaa" stroke-width="1.1"/>
<line x1="461.4" y1="628.73" x2="461.4" y2="632.9" stroke="#aaa" stroke-width="1.1"/>
<line x1="458.8" y1="628.73" x2="464" y2="628.73" stroke="#aaa" stroke-width="1.1"/>
<line x1="458.8" y1="632.9" x2="464" y2="632.9" stroke="#aaa" stroke-width="1.1"/>
<line x1="510.3" y1="633.46" x2="510.3" y2="637.64" stroke="#aaa" stroke-width="1.1"/>
<line x1="507.7" y1="633.46" x2="512.9" y2="633.46" stroke="#aaa" stroke-width="1.1"/>
<line x1="507.7" y1="637.64" x2="512.9" y2="637.64" stroke="#aaa" stroke-width="1.1"/>
<line x1="559.2" y1="623.02" x2="559.2" y2="627.2" stroke="#aaa" stroke-width="1.1"/>
<line x1="556.6" y1="623.02" x2="561.8" y2="623.02" stroke="#aaa" stroke-width="1.1"/>
<line x1="556.6" y1="627.2" x2="561.8" y2="627.2" stroke="#aaa" stroke-width="1.1"/>
<line x1="608.1" y1="606.66" x2="608.1" y2="610.84" stroke="#aaa" stroke-width="1.1"/>
<line x1="605.5" y1="606.66" x2="610.7" y2="606.66" stroke="#aaa" stroke-width="1.1"/>
<line x1="605.5" y1="610.84" x2="610.7" y2="610.84" stroke="#aaa" stroke-width="1.1"/>
<line x1="657" y1="573.12" x2="657" y2="577.29" stroke="#aaa" stroke-width="1.1"/>
<line x1="654.4" y1="573.12" x2="659.6" y2="573.12" stroke="#aaa" stroke-width="1.1"/>
<line x1="654.4" y1="577.29" x2="659.6" y2="577.29" stroke="#aaa" stroke-width="1.1"/>
<line x1="436.95" y1="572.91" x2="436.95" y2="577.08" stroke="#888" stroke-width="1.1"/>
<line x1="434.35" y1="572.91" x2="439.55" y2="572.91" stroke="#888" stroke-width="1.1"/>
<line x1="434.35" y1="577.08" x2="439.55" y2="577.08" stroke="#888" stroke-width="1.1"/>
<line x1="461.4" y1="606.46" x2="461.4" y2="610.63" stroke="#888" stroke-width="1.1"/>
<line x1="458.8" y1="606.46" x2="464" y2="606.46" stroke="#888" stroke-width="1.1"/>
<line x1="458.8" y1="610.63" x2="464" y2="610.63" stroke="#888" stroke-width="1.1"/>
<line x1="510.3" y1="619.33" x2="510.3" y2="623.51" stroke="#888" stroke-width="1.1"/>
<line x1="507.7" y1="619.33" x2="512.9" y2="619.33" stroke="#888" stroke-width="1.1"/>
<line x1="507.7" y1="623.51" x2="512.9" y2="623.51" stroke="#888" stroke-width="1.1"/>
<line x1="559.2" y1="609.1" x2="559.2" y2="620.24" stroke="#888" stroke-width="1.1"/>
<line x1="556.6" y1="609.1" x2="561.8" y2="609.1" stroke="#888" stroke-width="1.1"/>
<line x1="556.6" y1="620.24" x2="561.8" y2="620.24" stroke="#888" stroke-width="1.1"/>
<line x1="608.1" y1="599.7" x2="608.1" y2="605.27" stroke="#888" stroke-width="1.1"/>
<line x1="605.5" y1="599.7" x2="610.7" y2="599.7" stroke="#888" stroke-width="1.1"/>
<line x1="605.5" y1="605.27" x2="610.7" y2="605.27" stroke="#888" stroke-width="1.1"/>
<line x1="657" y1="591" x2="657" y2="595.18" stroke="#888" stroke-width="1.1"/>
<line x1="654.4" y1="591" x2="659.6" y2="591" stroke="#888" stroke-width="1.1"/>
<line x1="654.4" y1="595.18" x2="659.6" y2="595.18" stroke="#888" stroke-width="1.1"/>
<line x1="436.95" y1="564.14" x2="436.95" y2="568.31" stroke="#555" stroke-width="1.1"/>
<line x1="434.35" y1="564.14" x2="439.55" y2="564.14" stroke="#555" stroke-width="1.1"/>
<line x1="434.35" y1="568.31" x2="439.55" y2="568.31" stroke="#555" stroke-width="1.1"/>
<line x1="461.4" y1="597.62" x2="461.4" y2="601.79" stroke="#555" stroke-width="1.1"/>
<line x1="458.8" y1="597.62" x2="464" y2="597.62" stroke="#555" stroke-width="1.1"/>
<line x1="458.8" y1="601.79" x2="464" y2="601.79" stroke="#555" stroke-width="1.1"/>
<line x1="510.3" y1="620.51" x2="510.3" y2="624.69" stroke="#555" stroke-width="1.1"/>
<line x1="507.7" y1="620.51" x2="512.9" y2="620.51" stroke="#555" stroke-width="1.1"/>
<line x1="507.7" y1="624.69" x2="512.9" y2="624.69" stroke="#555" stroke-width="1.1"/>
<line x1="559.2" y1="616.06" x2="559.2" y2="621.63" stroke="#555" stroke-width="1.1"/>
<line x1="556.6" y1="616.06" x2="561.8" y2="616.06" stroke="#555" stroke-width="1.1"/>
<line x1="556.6" y1="621.63" x2="561.8" y2="621.63" stroke="#555" stroke-width="1.1"/>
<line x1="608.1" y1="596.57" x2="608.1" y2="600.75" stroke="#555" stroke-width="1.1"/>
<line x1="605.5" y1="596.57" x2="610.7" y2="596.57" stroke="#555" stroke-width="1.1"/>
<line x1="605.5" y1="600.75" x2="610.7" y2="600.75" stroke="#555" stroke-width="1.1"/>
<line x1="657" y1="583.63" x2="657" y2="587.8" stroke="#555" stroke-width="1.1"/>
<line x1="654.4" y1="583.63" x2="659.6" y2="583.63" stroke="#555" stroke-width="1.1"/>
<line x1="654.4" y1="587.8" x2="659.6" y2="587.8" stroke="#555" stroke-width="1.1"/>
<line x1="412.5" y1="498.58" x2="412.5" y2="520.85" stroke="#222" stroke-width="1.3"/>
<line x1="409.9" y1="498.58" x2="415.1" y2="498.58" stroke="#222" stroke-width="1.3"/>
<line x1="409.9" y1="520.85" x2="415.1" y2="520.85" stroke="#222" stroke-width="1.3"/>
<line x1="436.95" y1="490.29" x2="436.95" y2="533.44" stroke="#222" stroke-width="1.3"/>
<line x1="434.35" y1="490.29" x2="439.55" y2="490.29" stroke="#222" stroke-width="1.3"/>
<line x1="434.35" y1="533.44" x2="439.55" y2="533.44" stroke="#222" stroke-width="1.3"/>
<line x1="461.4" y1="529.76" x2="461.4" y2="563.16" stroke="#888" stroke-width="1.6"/>
<line x1="458.8" y1="529.76" x2="464" y2="529.76" stroke="#888" stroke-width="1.6"/>
<line x1="458.8" y1="563.16" x2="464" y2="563.16" stroke="#888" stroke-width="1.6"/>
<line x1="510.3" y1="533.24" x2="510.3" y2="568.04" stroke="#222" stroke-width="1.3"/>
<line x1="507.7" y1="533.24" x2="512.9" y2="533.24" stroke="#222" stroke-width="1.3"/>
<line x1="507.7" y1="568.04" x2="512.9" y2="568.04" stroke="#222" stroke-width="1.3"/>
<line x1="559.2" y1="526.07" x2="559.2" y2="563.65" stroke="#222" stroke-width="1.3"/>
<line x1="556.6" y1="526.07" x2="561.8" y2="526.07" stroke="#222" stroke-width="1.3"/>
<line x1="556.6" y1="563.65" x2="561.8" y2="563.65" stroke="#222" stroke-width="1.3"/>
<line x1="608.1" y1="521.82" x2="608.1" y2="555.23" stroke="#222" stroke-width="1.3"/>
<line x1="605.5" y1="521.82" x2="610.7" y2="521.82" stroke="#222" stroke-width="1.3"/>
<line x1="605.5" y1="555.23" x2="610.7" y2="555.23" stroke="#222" stroke-width="1.3"/>
<line x1="657" y1="523.49" x2="657" y2="551.33" stroke="#222" stroke-width="1.3"/>
<line x1="654.4" y1="523.49" x2="659.6" y2="523.49" stroke="#222" stroke-width="1.3"/>
<line x1="654.4" y1="551.33" x2="659.6" y2="551.33" stroke="#222" stroke-width="1.3"/>
<path d="M412.5,541.59 C416.57,553.62 428.8,598.89 436.95,613.76 C445.1,628.63 449.17,627.18 461.4,630.82 C473.62,634.45 494,636.5 510.3,635.55 C526.6,634.6 542.9,629.57 559.2,625.11 C575.5,620.64 591.8,617.07 608.1,608.75 C624.4,600.43 648.85,580.8 657,575.2" fill="none" stroke="#999" stroke-width="1.1" stroke-dasharray="1.4 1.8"/>
<rect x="410.3" y="539.39" width="4.4" height="4.4" fill="#fff" stroke="#8a8a8a" stroke-width="1.1" rx="1.4"/>
<line x1="412.5" y1="539.39" x2="412.5" y2="543.79" stroke="#8a8a8a" stroke-width="0.8"/>
<rect x="434.75" y="611.56" width="4.4" height="4.4" fill="#fff" stroke="#8a8a8a" stroke-width="1.1" rx="1.4"/>
<line x1="436.95" y1="611.56" x2="436.95" y2="615.96" stroke="#8a8a8a" stroke-width="0.8"/>
<rect x="459.2" y="628.62" width="4.4" height="4.4" fill="#fff" stroke="#8a8a8a" stroke-width="1.1" rx="1.4"/>
<line x1="461.4" y1="628.62" x2="461.4" y2="633.02" stroke="#8a8a8a" stroke-width="0.8"/>
<rect x="508.1" y="633.35" width="4.4" height="4.4" fill="#fff" stroke="#8a8a8a" stroke-width="1.1" rx="1.4"/>
<line x1="510.3" y1="633.35" x2="510.3" y2="637.75" stroke="#8a8a8a" stroke-width="0.8"/>
<rect x="557" y="622.91" width="4.4" height="4.4" fill="#fff" stroke="#8a8a8a" stroke-width="1.1" rx="1.4"/>
<line x1="559.2" y1="622.91" x2="559.2" y2="627.31" stroke="#8a8a8a" stroke-width="0.8"/>
<rect x="605.9" y="606.55" width="4.4" height="4.4" fill="#fff" stroke="#8a8a8a" stroke-width="1.1" rx="1.4"/>
<line x1="608.1" y1="606.55" x2="608.1" y2="610.95" stroke="#8a8a8a" stroke-width="0.8"/>
<rect x="654.8" y="573" width="4.4" height="4.4" fill="#fff" stroke="#8a8a8a" stroke-width="1.1" rx="1.4"/>
<line x1="657" y1="573" x2="657" y2="577.4" stroke="#8a8a8a" stroke-width="0.8"/>
<path d="M412.5,525.72 C416.57,532.47 428.8,553.9 436.95,566.23 C445.1,578.56 449.17,590.31 461.4,599.7 C473.62,609.1 494,619.41 510.3,622.6 C526.6,625.79 542.9,622.83 559.2,618.84 C575.5,614.85 591.8,604.18 608.1,598.66 C624.4,593.14 648.85,587.87 657,585.71" fill="none" stroke="#000" stroke-width="1.3" stroke-dasharray="1.4 1.6"/>
<circle cx="412.5" cy="525.72" r="2" fill="#fff" stroke="#000" stroke-width="1.4"/>
<line x1="412.5" y1="523.72" x2="412.5" y2="527.72" stroke="#000" stroke-width="0.8"/>
<circle cx="436.95" cy="566.23" r="2" fill="#fff" stroke="#000" stroke-width="1.4"/>
<line x1="436.95" y1="564.23" x2="436.95" y2="568.23" stroke="#000" stroke-width="0.8"/>
<circle cx="461.4" cy="599.7" r="2" fill="#fff" stroke="#000" stroke-width="1.4"/>
<line x1="461.4" y1="597.7" x2="461.4" y2="601.7" stroke="#000" stroke-width="0.8"/>
<circle cx="510.3" cy="622.6" r="2" fill="#fff" stroke="#000" stroke-width="1.4"/>
<line x1="510.3" y1="620.6" x2="510.3" y2="624.6" stroke="#000" stroke-width="0.8"/>
<circle cx="559.2" cy="618.84" r="2" fill="#fff" stroke="#000" stroke-width="1.4"/>
<line x1="559.2" y1="616.84" x2="559.2" y2="620.84" stroke="#000" stroke-width="0.8"/>
<circle cx="608.1" cy="598.66" r="2" fill="#fff" stroke="#000" stroke-width="1.4"/>
<line x1="608.1" y1="596.66" x2="608.1" y2="600.66" stroke="#000" stroke-width="0.8"/>
<circle cx="657" cy="585.71" r="2" fill="#fff" stroke="#000" stroke-width="1.4"/>
<line x1="657" y1="583.71" x2="657" y2="587.71" stroke="#000" stroke-width="0.8"/>
<path d="M412.5,536.72 C416.57,543.1 428.8,563.02 436.95,575 C445.1,586.97 449.17,600.81 461.4,608.54 C473.62,616.28 494,620.4 510.3,621.42 C526.6,622.44 542.9,617.82 559.2,614.67 C575.5,611.51 591.8,606.08 608.1,602.49 C624.4,598.89 648.85,594.66 657,593.09" fill="none" stroke="#838383" stroke-width="1.7"/>
<rect x="409.9" y="534.12" width="5.2" height="5.2" fill="#7f7f7f" stroke="none" stroke-width="1" rx="0.8"/>
<rect x="434.35" y="572.4" width="5.2" height="5.2" fill="#7f7f7f" stroke="none" stroke-width="1" rx="0.8"/>
<rect x="458.8" y="605.94" width="5.2" height="5.2" fill="#7f7f7f" stroke="none" stroke-width="1" rx="0.8"/>
<rect x="507.7" y="618.82" width="5.2" height="5.2" fill="#7f7f7f" stroke="none" stroke-width="1" rx="0.8"/>
<rect x="556.6" y="612.07" width="5.2" height="5.2" fill="#7f7f7f" stroke="none" stroke-width="1" rx="0.8"/>
<rect x="605.5" y="599.89" width="5.2" height="5.2" fill="#7f7f7f" stroke="none" stroke-width="1" rx="0.8"/>
<rect x="654.4" y="590.49" width="5.2" height="5.2" fill="#7f7f7f" stroke="none" stroke-width="1" rx="0.8"/>
<path d="M412.5,509.71 C416.57,510.07 428.8,505.74 436.95,511.87 C445.1,517.99 449.17,540 461.4,546.46 C473.62,552.92 494,550.9 510.3,550.64 C526.6,550.37 542.9,546.88 559.2,544.86 C575.5,542.84 591.8,539.77 608.1,538.53 C624.4,537.28 648.85,537.6 657,537.41" fill="none" stroke="#000" stroke-width="1.65"/>
<circle cx="412.5" cy="509.71" r="3.1" fill="#000"/>
<circle cx="436.95" cy="511.87" r="3.1" fill="#000"/>
<circle cx="461.4" cy="546.46" r="3.1" fill="#000"/>
<circle cx="510.3" cy="550.64" r="3.1" fill="#000"/>
<circle cx="559.2" cy="544.86" r="3.1" fill="#000"/>
<circle cx="608.1" cy="538.53" r="3.1" fill="#000"/>
<circle cx="657" cy="537.41" r="3.1" fill="#000"/>
<text x="413.8" y="494.11" font-size="18.93" font-weight="bold" text-anchor="middle" fill="#000">*</text>
<path d="M7.1,-7.6 C6.9,-9.1 5.8,-9.95 4.5,-9.95 C3.0,-9.95 2.15,-9.1 2.15,-7.7 L2.2,-3.7 C2.2,-2.3 1.6,-1.4 0.55,-0.85 M0.55,-0.85 C1.8,-1.45 3.0,-1.15 4.2,-0.95 C5.4,-0.75 6.5,-0.65 7.7,-1.25 M0.15,-4.8 L5.6,-4.8" transform="translate(434.4,461.9) scale(1)" fill="none" stroke="#000" stroke-width="1.65"/>
<text x="438.3" y="483.81" font-size="19.22" font-weight="bold" text-anchor="middle" fill="#000">*</text>
<path d="M7.1,-7.6 C6.9,-9.1 5.8,-9.95 4.5,-9.95 C3.0,-9.95 2.15,-9.1 2.15,-7.7 L2.2,-3.7 C2.2,-2.3 1.6,-1.4 0.55,-0.85 M0.55,-0.85 C1.8,-1.45 3.0,-1.15 4.2,-0.95 C5.4,-0.75 6.5,-0.65 7.7,-1.25 M0.15,-4.8 L5.6,-4.8" transform="translate(457.5,501.3) scale(1)" fill="none" stroke="#000" stroke-width="1.65"/>
<text x="461.4" y="523.11" font-size="18.93" font-weight="bold" text-anchor="middle" fill="#000">*</text>
<path d="M7.1,-7.6 C6.9,-9.1 5.8,-9.95 4.5,-9.95 C3.0,-9.95 2.15,-9.1 2.15,-7.7 L2.2,-3.7 C2.2,-2.3 1.6,-1.4 0.55,-0.85 M0.55,-0.85 C1.8,-1.45 3.0,-1.15 4.2,-0.95 C5.4,-0.75 6.5,-0.65 7.7,-1.25 M0.15,-4.8 L5.6,-4.8" transform="translate(505.9,503) scale(1)" fill="none" stroke="#000" stroke-width="1.65"/>
<text x="509.8" y="525.32" font-size="18.36" font-weight="bold" text-anchor="middle" fill="#000">*</text>
<path d="M7.1,-7.6 C6.9,-9.1 5.8,-9.95 4.5,-9.95 C3.0,-9.95 2.15,-9.1 2.15,-7.7 L2.2,-3.7 C2.2,-2.3 1.6,-1.4 0.55,-0.85 M0.55,-0.85 C1.8,-1.45 3.0,-1.15 4.2,-0.95 C5.4,-0.75 6.5,-0.65 7.7,-1.25 M0.15,-4.8 L5.6,-4.8" transform="translate(555.5,497.2) scale(1)" fill="none" stroke="#000" stroke-width="1.65"/>
<text x="559.4" y="519.11" font-size="18.93" font-weight="bold" text-anchor="middle" fill="#000">*</text>
<path d="M7.1,-7.6 C6.9,-9.1 5.8,-9.95 4.5,-9.95 C3.0,-9.95 2.15,-9.1 2.15,-7.7 L2.2,-3.7 C2.2,-2.3 1.6,-1.4 0.55,-0.85 M0.55,-0.85 C1.8,-1.45 3.0,-1.15 4.2,-0.95 C5.4,-0.75 6.5,-0.65 7.7,-1.25 M0.15,-4.8 L5.6,-4.8" transform="translate(604.1,493.3) scale(1)" fill="none" stroke="#000" stroke-width="1.65"/>
<text x="608" y="515.99" font-size="20.65" font-weight="bold" text-anchor="middle" fill="#000">*</text>
<path d="M7.1,-7.6 C6.9,-9.1 5.8,-9.95 4.5,-9.95 C3.0,-9.95 2.15,-9.1 2.15,-7.7 L2.2,-3.7 C2.2,-2.3 1.6,-1.4 0.55,-0.85 M0.55,-0.85 C1.8,-1.45 3.0,-1.15 4.2,-0.95 C5.4,-0.75 6.5,-0.65 7.7,-1.25 M0.15,-4.8 L5.6,-4.8" transform="translate(653,495) scale(1)" fill="none" stroke="#000" stroke-width="1.65"/>
<text x="656.9" y="517.6" font-size="19.79" font-weight="bold" text-anchor="middle" fill="#000">*</text>
<text x="439.2" y="562.22" font-size="18.07" font-weight="bold" text-anchor="middle" fill="#000">*</text>
<text x="462.8" y="594.62" font-size="18.07" font-weight="bold" text-anchor="middle" fill="#000">*</text>
<path d="M7.1,-7.6 C6.9,-9.1 5.8,-9.95 4.5,-9.95 C3.0,-9.95 2.15,-9.1 2.15,-7.7 L2.2,-3.7 C2.2,-2.3 1.6,-1.4 0.55,-0.85 M0.55,-0.85 C1.8,-1.45 3.0,-1.15 4.2,-0.95 C5.4,-0.75 6.5,-0.65 7.7,-1.25 M0.15,-4.8 L5.6,-4.8" transform="translate(432.6,638.3) scale(1)" fill="none" stroke="#000" stroke-width="1.65"/>
<path d="M7.1,-7.6 C6.9,-9.1 5.8,-9.95 4.5,-9.95 C3.0,-9.95 2.15,-9.1 2.15,-7.7 L2.2,-3.7 C2.2,-2.3 1.6,-1.4 0.55,-0.85 M0.55,-0.85 C1.8,-1.45 3.0,-1.15 4.2,-0.95 C5.4,-0.75 6.5,-0.65 7.7,-1.25 M0.15,-4.8 L5.6,-4.8" transform="translate(457.1,654.9) scale(1)" fill="none" stroke="#000" stroke-width="1.65"/>
<path d="M7.1,-7.6 C6.9,-9.1 5.8,-9.95 4.5,-9.95 C3.0,-9.95 2.15,-9.1 2.15,-7.7 L2.2,-3.7 C2.2,-2.3 1.6,-1.4 0.55,-0.85 M0.55,-0.85 C1.8,-1.45 3.0,-1.15 4.2,-0.95 C5.4,-0.75 6.5,-0.65 7.7,-1.25 M0.15,-4.8 L5.6,-4.8" transform="translate(556.1,646.2) scale(1)" fill="none" stroke="#000" stroke-width="1.65"/>
<path d="M7.1,-7.6 C6.9,-9.1 5.8,-9.95 4.5,-9.95 C3.0,-9.95 2.15,-9.1 2.15,-7.7 L2.2,-3.7 C2.2,-2.3 1.6,-1.4 0.55,-0.85 M0.55,-0.85 C1.8,-1.45 3.0,-1.15 4.2,-0.95 C5.4,-0.75 6.5,-0.65 7.7,-1.25 M0.15,-4.8 L5.6,-4.8" transform="translate(653,614.4) scale(1)" fill="none" stroke="#000" stroke-width="1.65"/>
<line x1="140.6" y1="868.7" x2="143.2" y2="868.7" stroke="#666" stroke-width="1"/>
<text x="137.2" y="872.4" font-size="11.9" text-anchor="end" fill="#000">0</text>
<line x1="140.6" y1="853.24" x2="143.2" y2="853.24" stroke="#666" stroke-width="1"/>
<text x="137.2" y="856.94" font-size="11.9" text-anchor="end" fill="#000">5,000</text>
<line x1="140.6" y1="837.79" x2="143.2" y2="837.79" stroke="#666" stroke-width="1"/>
<text x="137.2" y="841.49" font-size="11.9" text-anchor="end" fill="#000">10,000</text>
<line x1="140.6" y1="822.33" x2="143.2" y2="822.33" stroke="#666" stroke-width="1"/>
<text x="137.2" y="826.03" font-size="11.9" text-anchor="end" fill="#000">15,000</text>
<line x1="140.6" y1="806.88" x2="143.2" y2="806.88" stroke="#666" stroke-width="1"/>
<text x="137.2" y="810.58" font-size="11.9" text-anchor="end" fill="#000">20,000</text>
<line x1="140.6" y1="791.42" x2="143.2" y2="791.42" stroke="#666" stroke-width="1"/>
<text x="137.2" y="795.12" font-size="11.9" text-anchor="end" fill="#000">25,000</text>
<line x1="140.6" y1="775.97" x2="143.2" y2="775.97" stroke="#666" stroke-width="1"/>
<text x="137.2" y="779.67" font-size="11.9" text-anchor="end" fill="#000">30,000</text>
<line x1="140.6" y1="760.51" x2="143.2" y2="760.51" stroke="#666" stroke-width="1"/>
<text x="137.2" y="764.21" font-size="11.9" text-anchor="end" fill="#000">35,000</text>
<line x1="140.6" y1="745.06" x2="143.2" y2="745.06" stroke="#666" stroke-width="1"/>
<text x="137.2" y="748.76" font-size="11.9" text-anchor="end" fill="#000">40,000</text>
<line x1="140.6" y1="729.6" x2="143.2" y2="729.6" stroke="#666" stroke-width="1"/>
<text x="137.2" y="733.3" font-size="11.9" text-anchor="end" fill="#000">45,000</text>
<text transform="translate(93.4,799.8) rotate(-90)" x="0" y="0" font-size="16.5" font-weight="bold" text-anchor="middle">AUC</text>
<rect x="160.6" y="811" width="24.8" height="57.7" fill="#fff" stroke="#8a8a8a" stroke-width="1.4"/>
<rect x="185.2" y="781.67" width="24.8" height="87.03" fill="#fff" stroke="#000" stroke-width="1.3499999999999999"/>
<rect x="209.8" y="784.2" width="24.8" height="84.5" fill="#7f7f7f" stroke="none" stroke-width="1"/>
<rect x="234.5" y="752.1" width="24.8" height="116.6" fill="#000" stroke="none" stroke-width="1"/>
<line x1="173" y1="809.3" x2="173" y2="813.1" stroke="#000" stroke-width="1.1"/>
<line x1="170.6" y1="809.3" x2="175.4" y2="809.3" stroke="#000" stroke-width="1.1"/>
<line x1="170.6" y1="813.1" x2="175.4" y2="813.1" stroke="#000" stroke-width="1.1"/>
<line x1="197.6" y1="778.8" x2="197.6" y2="783.6" stroke="#000" stroke-width="1.1"/>
<line x1="195.2" y1="778.8" x2="200" y2="778.8" stroke="#000" stroke-width="1.1"/>
<line x1="195.2" y1="783.6" x2="200" y2="783.6" stroke="#000" stroke-width="1.1"/>
<line x1="222.2" y1="781.7" x2="222.2" y2="786.8" stroke="#000" stroke-width="1.1"/>
<line x1="219.8" y1="781.7" x2="224.6" y2="781.7" stroke="#000" stroke-width="1.1"/>
<line x1="219.8" y1="786.8" x2="224.6" y2="786.8" stroke="#000" stroke-width="1.1"/>
<line x1="246.9" y1="748.3" x2="246.9" y2="756" stroke="#000" stroke-width="1.1"/>
<line x1="244.5" y1="748.3" x2="249.3" y2="748.3" stroke="#000" stroke-width="1.1"/>
<line x1="244.5" y1="756" x2="249.3" y2="756" stroke="#000" stroke-width="1.1"/>
<line x1="143.2" y1="729.6" x2="143.2" y2="870.9" stroke="#808080" stroke-width="1.5"/>
<line x1="140.7" y1="868.7" x2="277.2" y2="868.7" stroke="#333" stroke-width="1.3"/>
<line x1="277.2" y1="868.7" x2="277.2" y2="871.7" stroke="#000" stroke-width="1.1"/>
<text x="197.5" y="775.87" font-size="21.8" font-weight="bold" text-anchor="middle" fill="#000">*</text>
<path d="M7.1,-7.6 C6.9,-9.1 5.8,-9.95 4.5,-9.95 C3.0,-9.95 2.15,-9.1 2.15,-7.7 L2.2,-3.7 C2.2,-2.3 1.6,-1.4 0.55,-0.85 M0.55,-0.85 C1.8,-1.45 3.0,-1.15 4.2,-0.95 C5.4,-0.75 6.5,-0.65 7.7,-1.25 M0.15,-4.8 L5.6,-4.8" transform="translate(218,771.4) scale(1)" fill="none" stroke="#000" stroke-width="1.65"/>
<text x="247.4" y="745.66" font-size="22.37" font-weight="bold" text-anchor="middle" fill="#000">*</text>
<line x1="474.1" y1="871.3" x2="476.6" y2="871.3" stroke="#222" stroke-width="1"/>
<text x="470.8" y="875.3" font-size="11.8" text-anchor="end" fill="#000">0</text>
<line x1="474.1" y1="854.4" x2="476.6" y2="854.4" stroke="#222" stroke-width="1"/>
<text x="470.8" y="858.4" font-size="11.8" text-anchor="end" fill="#000">2,000</text>
<line x1="474.1" y1="837.5" x2="476.6" y2="837.5" stroke="#222" stroke-width="1"/>
<text x="470.8" y="841.5" font-size="11.8" text-anchor="end" fill="#000">4,000</text>
<line x1="474.1" y1="820.6" x2="476.6" y2="820.6" stroke="#222" stroke-width="1"/>
<text x="470.8" y="824.6" font-size="11.8" text-anchor="end" fill="#000">6,000</text>
<line x1="474.1" y1="803.7" x2="476.6" y2="803.7" stroke="#222" stroke-width="1"/>
<text x="470.8" y="807.7" font-size="11.8" text-anchor="end" fill="#000">8,000</text>
<line x1="474.1" y1="786.8" x2="476.6" y2="786.8" stroke="#222" stroke-width="1"/>
<text x="470.8" y="790.8" font-size="11.8" text-anchor="end" fill="#000">10,000</text>
<line x1="474.1" y1="769.9" x2="476.6" y2="769.9" stroke="#222" stroke-width="1"/>
<text x="470.8" y="773.9" font-size="11.8" text-anchor="end" fill="#000">12,000</text>
<line x1="474.1" y1="753" x2="476.6" y2="753" stroke="#222" stroke-width="1"/>
<text x="470.8" y="757" font-size="11.8" text-anchor="end" fill="#000">14,000</text>
<line x1="474.1" y1="736.1" x2="476.6" y2="736.1" stroke="#222" stroke-width="1"/>
<text x="470.8" y="740.1" font-size="11.8" text-anchor="end" fill="#000">16,000</text>
<text transform="translate(427.3,804.3) rotate(-90)" x="0" y="0" font-size="16.5" font-weight="bold" text-anchor="middle">AAC</text>
<rect x="494.7" y="757.6" width="24.8" height="113.7" fill="#fff" stroke="#8a8a8a" stroke-width="1.4"/>
<rect x="519.1" y="766.27" width="24.8" height="105.02" fill="#fff" stroke="#000" stroke-width="1.3499999999999999"/>
<rect x="543" y="773" width="24.8" height="98.3" fill="#7f7f7f" stroke="none" stroke-width="1"/>
<rect x="567.7" y="828.2" width="24.8" height="43.1" fill="#000" stroke="none" stroke-width="1"/>
<line x1="507.1" y1="751.5" x2="507.1" y2="763.4" stroke="#000" stroke-width="1.1"/>
<line x1="504.7" y1="751.5" x2="509.5" y2="751.5" stroke="#000" stroke-width="1.1"/>
<line x1="504.7" y1="763.4" x2="509.5" y2="763.4" stroke="#000" stroke-width="1.1"/>
<line x1="531.5" y1="757.9" x2="531.5" y2="773" stroke="#000" stroke-width="1.1"/>
<line x1="529.1" y1="757.9" x2="533.9" y2="757.9" stroke="#000" stroke-width="1.1"/>
<line x1="529.1" y1="773" x2="533.9" y2="773" stroke="#000" stroke-width="1.1"/>
<line x1="555.4" y1="767.5" x2="555.4" y2="779.4" stroke="#000" stroke-width="1.1"/>
<line x1="553" y1="767.5" x2="557.8" y2="767.5" stroke="#000" stroke-width="1.1"/>
<line x1="553" y1="779.4" x2="557.8" y2="779.4" stroke="#000" stroke-width="1.1"/>
<line x1="580.1" y1="825" x2="580.1" y2="832" stroke="#000" stroke-width="1.1"/>
<line x1="577.7" y1="825" x2="582.5" y2="825" stroke="#000" stroke-width="1.1"/>
<line x1="577.7" y1="832" x2="582.5" y2="832" stroke="#000" stroke-width="1.1"/>
<line x1="476.6" y1="736.1" x2="476.6" y2="873.8" stroke="#111" stroke-width="1.2"/>
<line x1="474.1" y1="871.3" x2="610.4" y2="871.3" stroke="#000" stroke-width="1.3"/>
<line x1="610.4" y1="871.3" x2="610.4" y2="874.3" stroke="#000" stroke-width="1.1"/>
<path d="M7.1,-7.6 C6.9,-9.1 5.8,-9.95 4.5,-9.95 C3.0,-9.95 2.15,-9.1 2.15,-7.7 L2.2,-3.7 C2.2,-2.3 1.6,-1.4 0.55,-0.85 M0.55,-0.85 C1.8,-1.45 3.0,-1.15 4.2,-0.95 C5.4,-0.75 6.5,-0.65 7.7,-1.25 M0.15,-4.8 L5.6,-4.8" transform="translate(576,801.9) scale(1)" fill="none" stroke="#000" stroke-width="1.65"/>
<text x="579.9" y="822.99" font-size="20.36" font-weight="bold" text-anchor="middle" fill="#000">*</text>
<line x1="247" y1="888.2" x2="275" y2="888.2" stroke="#999" stroke-width="1.1" stroke-dasharray="1.4 1.8"/>
<circle cx="261.6" cy="888.2" r="2.6" fill="#fff" stroke="#999" stroke-width="1"/>
<text x="280.3" y="894.4" font-size="14.4" font-weight="bold" text-anchor="start" fill="#000">TP53INP1 +/+ CTRL n=6</text>
<rect x="452.1" y="884.2" width="11.4" height="11.9" fill="#fff" stroke="#8a8a8a" stroke-width="1.6"/>
<line x1="247" y1="906.7" x2="275" y2="906.7" stroke="#000" stroke-width="1.3" stroke-dasharray="1.4 1.6"/>
<circle cx="261.6" cy="906.7" r="2.6" fill="#fff" stroke="#000" stroke-width="1.1"/>
<text x="280.3" y="912.9" font-size="14.4" font-weight="bold" text-anchor="start" fill="#000">TP53INP1 -/- CTRL n=6</text>
<rect x="452.1" y="901.7" width="11.4" height="12" fill="#fff" stroke="#000" stroke-width="1.9"/>
<line x1="247" y1="925.3" x2="275.5" y2="925.3" stroke="#8a8a8a" stroke-width="2"/>
<circle cx="261.6" cy="925.3" r="3.1" fill="#7f7f7f"/>
<text x="280.3" y="931.5" font-size="14.4" font-weight="bold" text-anchor="start" fill="#000">TP53INP1 +/+ HFD n=6</text>
<rect x="451.3" y="919.2" width="13" height="13.6" fill="#7f7f7f" stroke="none" stroke-width="1"/>
<line x1="247" y1="943.5" x2="275.5" y2="943.5" stroke="#000" stroke-width="2"/>
<circle cx="261.6" cy="943.5" r="3.3" fill="#000"/>
<text x="280.3" y="949.7" font-size="14.4" font-weight="bold" text-anchor="start" fill="#000">TP53INP1 -/- HFD n=6</text>
<rect x="451.3" y="936.4" width="13" height="13.4" fill="#000" stroke="none" stroke-width="1"/>
</svg></body></html>
